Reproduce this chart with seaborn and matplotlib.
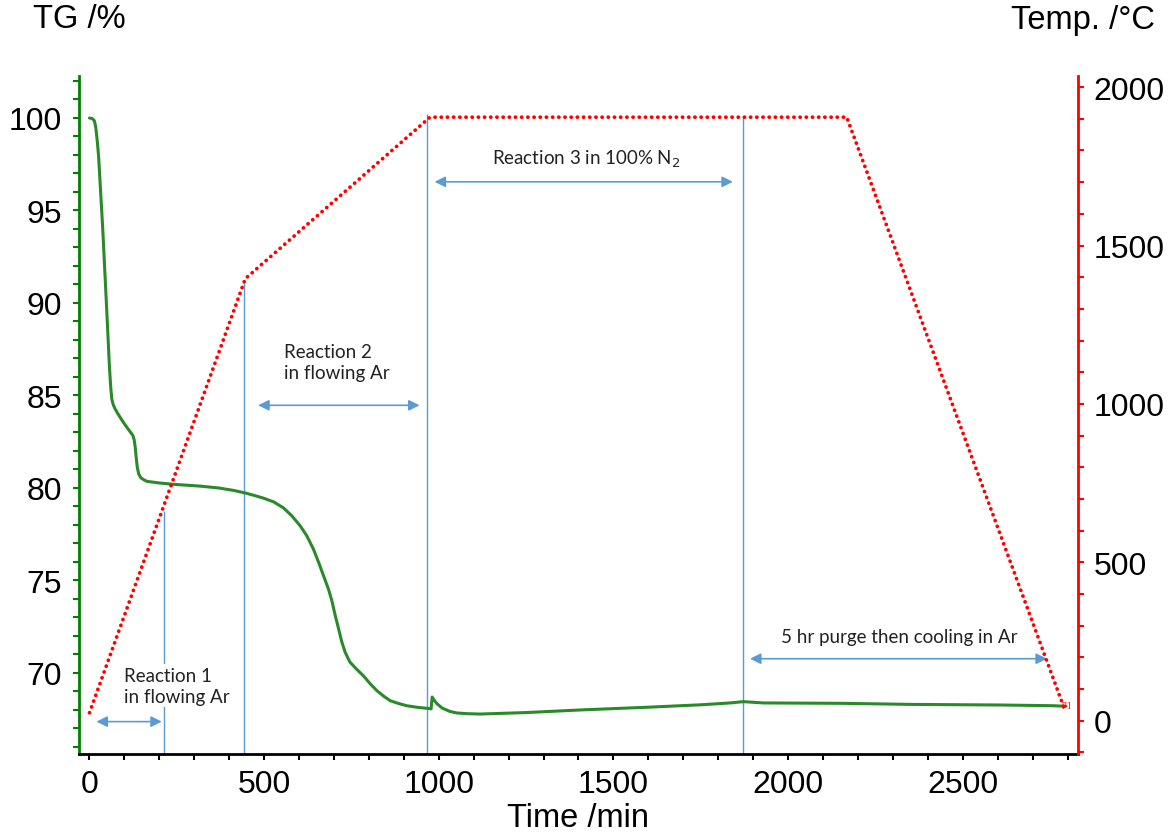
import matplotlib
matplotlib.use("Agg")
import matplotlib.pyplot as plt
import seaborn as sns
import numpy as np
import pandas as pd
from matplotlib.ticker import MultipleLocator

# ---- data ----
tg_time = [0, 8, 14, 18, 22, 26, 31, 38, 45, 52, 57, 61, 64, 68, 74, 85, 97, 110, 124, 128, 131,
           134, 137, 141, 147, 155, 164, 200, 240, 317, 370, 412, 446, 475, 498, 527, 555, 579,
           603, 622, 641, 656, 670, 684, 694, 703, 713, 722, 732, 740, 746, 765, 784, 803, 823,
           842, 861, 885, 908, 940, 966, 978, 981, 986, 994, 1010, 1032, 1051, 1080, 1118, 1250,
           1404, 1600, 1750, 1834, 1872, 1929, 2150, 2358, 2600, 2758, 2795]
tg_value = [100.0, 99.97, 99.85, 99.5, 98.8, 97.96, 96.3, 94.0, 91.3, 88.6, 86.6, 85.4, 84.8, 84.5,
            84.25, 83.9, 83.55, 83.2, 82.85, 82.6, 82.2, 81.6, 81.1, 80.75, 80.55, 80.45, 80.36,
            80.27, 80.2, 80.1, 80.0, 79.87, 79.73, 79.58, 79.45, 79.25, 78.93, 78.5, 77.96, 77.42,
            76.7, 75.98, 75.26, 74.54, 73.9, 73.15, 72.4, 71.7, 71.12, 70.8, 70.58, 70.2, 69.85,
            69.43, 69.04, 68.75, 68.5, 68.35, 68.23, 68.14, 68.09, 68.06, 68.7, 68.55, 68.35,
            68.1, 67.92, 67.84, 67.8, 67.78, 67.86, 68.0, 68.15, 68.28, 68.38, 68.45, 68.38,
            68.36, 68.3, 68.27, 68.23, 68.2]
temp_time = [0, 446, 975, 2168, 2792]
temp_value = [25, 1395, 1905, 1905, 35]

phase_lines_t = [214, 443, 966, 1871]
phase_lines_top = [78.75, 91.1, 100.2, 100.05]

arrow_spans = [(20, 207), (483, 945), (988, 1842), (1891, 2741)]
arrow_levels = [67.37, 84.47, 96.55, 70.77]
labels = ["Reaction 1\nin flowing Ar", "Reaction 2\nin flowing Ar",
          "Reaction 3 in 100% N$_2$", "5 hr purge then cooling in Ar"]
label_pos = [(100, 69.3), (557, 86.8), (1152, 97.8), (1980, 71.95)]

x_label = "Time /min"
y_label = "TG /%"
y2_label = "Temp. /°C"

tg_df = pd.DataFrame({"t": tg_time, "tg": tg_value})
temp_df = pd.DataFrame({"t": temp_time, "T": temp_value})

# ---- figure ----
sns.set_theme(style="white")
plt.rcParams["font.family"] = ["Liberation Sans", "DejaVu Sans"]
plt.rcParams["text.color"] = "black"
plt.rcParams["axes.labelcolor"] = "black"
plt.rcParams["xtick.color"] = "black"
plt.rcParams["ytick.color"] = "black"

fig = plt.figure(figsize=(11.75, 8.37), dpi=100)
ax = fig.add_axes([79/1175, 1-755/837, (1078-79)/1175, (755-77)/837])
ax2 = ax.twinx()

green = "#2a8a2a"
blue = "#5B9BD5"

sns.lineplot(data=temp_df, x="t", y="T", ax=ax2, color="red", linewidth=2.7)
for ln in ax2.get_lines():
    ln.set_linestyle((0, (0.05, 1.6)))
    ln.set_dash_capstyle("round")
sns.lineplot(data=tg_df, x="t", y="tg", ax=ax, color=green, linewidth=2.2)

ax.set_xlim(-30, 2830)
ax.set_ylim(65.62, 102.27)
ax2.set_ylim(-105, 2035)

ax.vlines(phase_lines_t, ymin=65.62, ymax=phase_lines_top, color=blue, linewidth=1.0, zorder=1)

for (a, b), lvl in zip(arrow_spans, arrow_levels):
    ax.annotate("", xy=(b, lvl), xytext=(a, lvl),
                arrowprops=dict(arrowstyle="<|-|>", color=blue, lw=1.2,
                                mutation_scale=16, shrinkA=0, shrinkB=0))

for i, (txt, (x, y)) in enumerate(zip(labels, label_pos)):
    kw = {}
    if i == 0:
        kw["bbox"] = dict(facecolor="white", edgecolor="none", pad=2)
    ax.text(x, y, txt, ha="left", va="center", fontsize=13.5, family=["Lato", "DejaVu Sans"],
            color="#222222", linespacing=1.25, zorder=5, **kw)

ax.text(2795, 68.3, "[1]", color="red", fontsize=6, ha="center", va="center")

# spines & ticks
for a in (ax, ax2):
    a.spines["top"].set_visible(False)
ax.spines["left"].set_color("green")
ax.spines["left"].set_linewidth(2)
ax.spines["bottom"].set_color("black")
ax.spines["bottom"].set_linewidth(2)
ax.spines["right"].set_visible(False)
ax2.spines["left"].set_visible(False)
ax2.spines["bottom"].set_visible(False)
ax2.spines["right"].set_color("red")
ax2.spines["right"].set_linewidth(2)

ax.xaxis.set_major_locator(MultipleLocator(500))
ax.xaxis.set_minor_locator(MultipleLocator(100))
ax.yaxis.set_major_locator(MultipleLocator(5))
ax.yaxis.set_minor_locator(MultipleLocator(1))
ax2.yaxis.set_major_locator(MultipleLocator(500))
ax2.yaxis.set_minor_locator(MultipleLocator(100))
ax.set_yticks([70, 75, 80, 85, 90, 95, 100])
ax2.set_yticks([0, 500, 1000, 1500, 2000])

ax.tick_params(axis="x", which="both", direction="out", length=4, width=1.5, color="black",
               labelcolor="black", labelsize=23, pad=7, bottom=True)
ax.tick_params(axis="y", which="both", direction="out", length=4, width=1.5, color="green",
               labelcolor="black", labelsize=23, pad=8, left=True)
ax2.tick_params(axis="y", which="both", direction="out", length=4, width=1.5, color="red",
                labelcolor="black", labelsize=23, pad=7, right=True)

ax.set_xlabel(x_label, fontsize=23.5, labelpad=2, color="black")
ax.set_ylabel("")
ax2.set_ylabel("")
ax.grid(False)
ax2.grid(False)

fig.text(33/1175, 1-20/837, y_label, fontsize=23.5, ha="left", va="center", color="black")
fig.text(1155/1175, 1-20/837, y2_label, fontsize=23.5, ha="right", va="center", color="black")

fig.savefig("out.png", dpi=100)
